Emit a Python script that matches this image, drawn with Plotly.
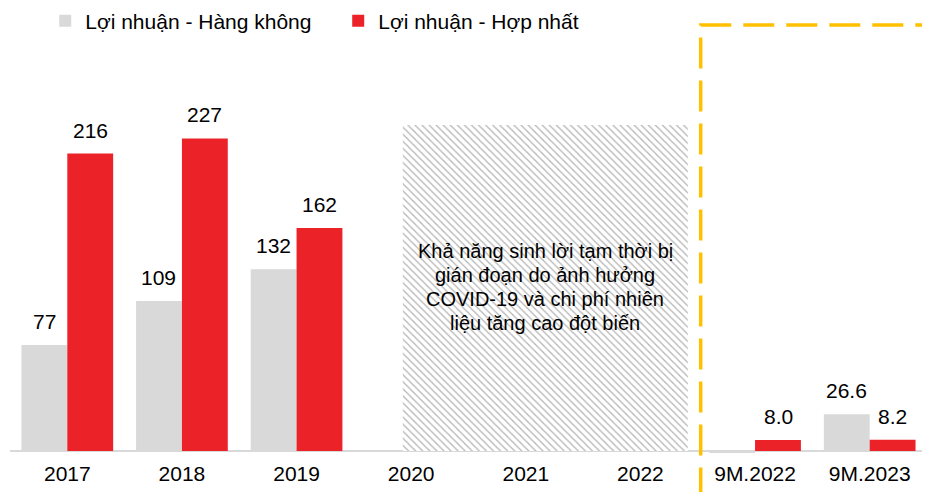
import plotly.graph_objects as go

categories = ["2017", "2018", "2019", "2020", "2021", "2022", "9M.2022", "9M.2023"]
hang_khong = [77, 109, 132, None, None, None, -1.5, 26.6]
hop_nhat = [216, 227, 162, None, None, None, 8.0, 8.2]
hang_khong_labels = ["77", "109", "132", "", "", "", "", "26.6"]
hop_nhat_labels = ["216", "227", "162", "", "", "", "8.0", "8.2"]
series_names = ["Lợi nhuận - Hàng không", "Lợi nhuận - Hợp nhất"]

covid_start, covid_end = "2020", "2022"
covid_height = 236.7
covid_note_lines = ["Khả năng sinh lời tạm thời bị",
                    "gián đoạn do ảnh hưởng",
                    "COVID-19 và chi phí nhiên",
                    "liệu tăng cao đột biến"]

GRAY = "#D9D9D9"
RED = "#EC2229"
YELLOW = "#FFC000"
FONT = "Liberation Sans, Arial, sans-serif"
FS = 21

fig = go.Figure()
fig.add_trace(go.Bar(x=categories, y=hang_khong, name=series_names[0],
                     marker=dict(color=GRAY, line=dict(width=0))))
fig.add_trace(go.Bar(x=categories, y=hop_nhat, name=series_names[1],
                     marker=dict(color=RED, line=dict(width=0))))

# hatched COVID region spanning 2020..2022
i0 = categories.index(covid_start)
i1 = categories.index(covid_end)
left_off = -0.073
right_off = 0.413
fig.add_trace(go.Bar(
    x=[covid_start], y=[covid_height], offset=left_off,
    width=(i1 - i0) + right_off - left_off, showlegend=False, hoverinfo="skip",
    marker=dict(color="white", line=dict(width=0),
                pattern=dict(shape="\\", fgcolor="#B4B4B4", bgcolor="white",
                             size=5, solidity=0.25, fillmode="replace")),
))

annotations = []
bar_half = 23
for i, (v, lab) in enumerate(zip(hang_khong, hang_khong_labels)):
    if v is not None and lab:
        annotations.append(dict(x=i, y=v, xref="x", yref="y", text=lab,
                                xshift=-bar_half, yshift=10,
                                yanchor="bottom", showarrow=False,
                                font=dict(size=FS, color="#000", family=FONT)))
for i, (v, lab) in enumerate(zip(hop_nhat, hop_nhat_labels)):
    if v is not None and lab:
        annotations.append(dict(x=i, y=v, xref="x", yref="y", text=lab,
                                xshift=bar_half, yshift=10,
                                yanchor="bottom", showarrow=False,
                                font=dict(size=FS, color="#000", family=FONT)))

note_x = (i0 + left_off + i1 + right_off) / 2
n = len(covid_note_lines)
for k, line in enumerate(covid_note_lines):
    annotations.append(dict(x=note_x, y=119, xref="x", yref="y", text=line,
                            yshift=-(k - (n - 1) / 2) * 24, showarrow=False,
                            align="center", yanchor="middle",
                            font=dict(size=20, color="#000", family=FONT)))

# yellow dashed bracket
xl = 0.7532
yt = 0.9662
shapes = [dict(type="path", xref="paper", yref="paper",
               path=f"M {xl},-0.1 L {xl},{yt} L 1.02,{yt}",
               line=dict(color=YELLOW, width=3.5, dash="31px,12px"))]

fig.update_layout(
    width=922, height=484,
    margin=dict(l=2, r=3, t=2, b=38, autoexpand=False),
    barmode="group", bargap=0.2, bargroupgap=0,
    plot_bgcolor="white", paper_bgcolor="white",
    font=dict(family=FONT, size=FS, color="#000"),
    showlegend=True,
    legend=dict(orientation="h", x=0.0384, y=0.975, xanchor="left", yanchor="middle",
                font=dict(size=FS, color="#000", family=FONT),
                entrywidth=248, entrywidthmode="pixels",
                bgcolor="rgba(0,0,0,0)", borderwidth=0),
    annotations=annotations,
    shapes=shapes,
)
fig.update_xaxes(type="category", categoryorder="array", categoryarray=categories,
                 range=[-0.5, len(categories) - 0.5], autorange=False,
                 showline=False, showgrid=False, ticks="", zeroline=False,
                 ticklabelstandoff=5,
                 tickfont=dict(size=FS, color="#000", family=FONT))
fig.update_yaxes(range=[-2.18, 320.3], autorange=False, showticklabels=False, showgrid=False,
                 zeroline=True, zerolinecolor=GRAY, zerolinewidth=2, showline=False)

fig.write_html("out.html")
